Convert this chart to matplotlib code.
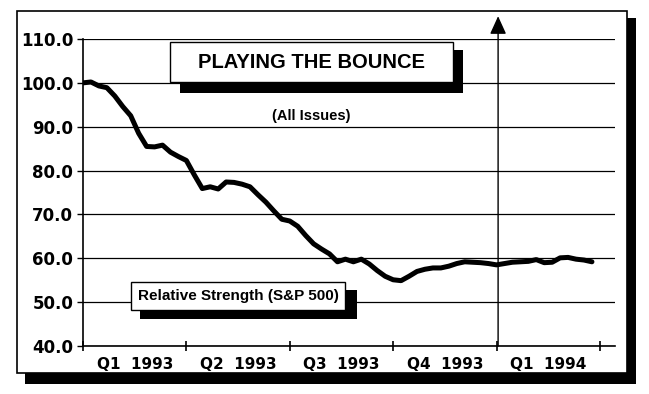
import matplotlib
matplotlib.use("Agg")
import matplotlib.pyplot as plt
from matplotlib.patches import Rectangle

# weekly relative strength vs S&P 500 (all issues), week 0 = start of Q1 1993
weeks = list(range(65))
strength = [100.0, 100.2, 99.3, 98.9, 97.0, 94.6, 92.5, 88.5, 85.5, 85.4,
            85.8, 84.2, 83.2, 82.3, 79.0, 75.9, 76.3, 75.8, 77.4, 77.3,
            76.9, 76.3, 74.5, 72.8, 70.8, 68.9, 68.5, 67.3, 65.2, 63.3,
            62.1, 61.0, 59.2, 59.8, 59.2, 59.8, 58.7, 57.2, 55.9, 55.1,
            54.9, 55.9, 57.0, 57.5, 57.8, 57.8, 58.2, 58.8, 59.2, 59.1,
            59.0, 58.8, 58.5, 58.8, 59.1, 59.2, 59.3, 59.7, 59.0, 59.1,
            60.1, 60.2, 59.8, 59.6, 59.2]
quarter_starts = [0, 13, 26, 39, 52, 65]
quarter_labels = ["Q1  1993", "Q2  1993", "Q3  1993", "Q4  1993", "Q1  1994"]
y_ticks = [40, 50, 60, 70, 80, 90, 100, 110]
marker_week = 52.2

W, H = 649, 394
fig = plt.figure(figsize=(W / 100, H / 100), dpi=100)


def box(x0, y0, x1, y1, **kw):
    # pixel box (top-left origin) -> figure rectangle
    r = Rectangle((x0 / W, 1 - y1 / H), (x1 - x0) / W, (y1 - y0) / H,
                  transform=fig.transFigure, **kw)
    fig.patches.append(r)
    return r


# outer frame with drop shadow
box(25, 18, 636, 384, facecolor="black", edgecolor="none", zorder=-2)
box(17, 11, 627, 373, facecolor="white", edgecolor="black", lw=1.2, zorder=-1)

ax = fig.add_axes([83 / W, 1 - 346 / H, (615 - 83) / W, (346 - 39) / H])
ax.patch.set_alpha(0)
ax.plot(weeks, strength, color="black", lw=3.6, solid_joinstyle="round",
        solid_capstyle="round", zorder=3)

ax.set_xlim(0, 66.9)
ax.set_ylim(40, 110)
ax.set_yticks(y_ticks)
ax.set_yticklabels(["%.1f" % v for v in y_ticks], fontsize=12,
                   fontweight="bold", family="DejaVu Sans")
ax.yaxis.grid(True, color="black", lw=0.9)
ax.set_axisbelow(True)

ax.set_xticks(quarter_starts)
ax.set_xticklabels([])
ax.set_xticks([q + 6.5 for q in quarter_starts[:-1]], minor=True)
ax.set_xticklabels(quarter_labels, minor=True, fontsize=11,
                   fontweight="bold", family="DejaVu Sans")
ax.tick_params(axis="x", which="major", direction="inout", length=7, width=1.2)
ax.tick_params(axis="x", which="minor", length=0, pad=8)
ax.tick_params(axis="y", direction="out", length=4, width=1, pad=3)

for side in ["top", "right"]:
    ax.spines[side].set_visible(False)
for side in ["left", "bottom"]:
    ax.spines[side].set_linewidth(1.2)

# vertical marker at start of 1994 with arrow head above the plot
ax.annotate("", xy=(marker_week, 115.2), xytext=(marker_week, 40),
            annotation_clip=False,
            arrowprops=dict(arrowstyle="-|>,head_length=1.1,head_width=0.5",
                            color="black", lw=1.0, shrinkA=0, shrinkB=0))

# title box
box(180, 50, 463, 93, facecolor="black", edgecolor="none", zorder=5)
box(170, 42, 453, 82, facecolor="white", edgecolor="black", lw=1, zorder=6)
fig.text(312 / W, 1 - 62 / H, "PLAYING THE BOUNCE", ha="center",
         va="center", fontsize=14.5, fontweight="bold",
         family="Liberation Sans", zorder=7)
fig.text(311 / W, 1 - 116 / H, "(All Issues)", ha="center", va="center",
         fontsize=10.5, fontweight="bold", family="Liberation Sans", zorder=7)

# series label box
box(140, 290, 357, 319, facecolor="black", edgecolor="none", zorder=5)
box(131, 282, 345, 310, facecolor="white", edgecolor="black", lw=1, zorder=6)
fig.text(238 / W, 1 - 296 / H, "Relative Strength (S&P 500)", ha="center",
         va="center", fontsize=11, fontweight="bold",
         family="Liberation Sans", zorder=7)

fig.savefig("out.png", dpi=100)
